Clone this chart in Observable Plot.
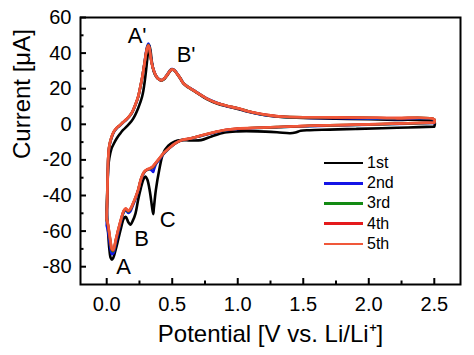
<!DOCTYPE html>
<html>
<head>
<meta charset="utf-8">
<script src="https://cdn.jsdelivr.net/npm/d3@7"></script>
<script src="https://cdn.jsdelivr.net/npm/@observablehq/plot@0.6"></script>
<style>
  html, body { margin: 0; padding: 0; background: #fff; }
  #wrap { position: relative; width: 474px; height: 355px; font-family: "Liberation Sans", Arial, sans-serif; }
  #legend { position: absolute; left: 324px; top: 153px; }
  .row { display: flex; align-items: center; height: 20.2px; }
  .sw { width: 39px; height: 2.5px; margin-right: 4px; }
  .lb { font-size: 16px; color: #000; line-height: 1; }
</style>
</head>
<body>
<div id="wrap"><div id="legend"></div></div>
<script>
// ---- data ----
const cycleNames = ["1st", "2nd", "3rd", "4th", "5th"];
const cycleColors = ["#000000", "#1414e6", "#138a13", "#e41a1c", "#f0583a"];

const xMajorTicks = [0, 0.5, 1.0, 1.5, 2.0, 2.5];
const xMinorTicks = [0.25, 0.75, 1.25, 1.75, 2.25];
const yMajorTicks = [-80, -60, -40, -20, 0, 20, 40, 60];
const yMinorTicks = [-70, -50, -30, -10, 10, 30, 50];

const xTitle = "Potential [V vs. Li/Li\u207A]";
const yTitle = "Current [\u03BCA]";

// potentials (V) of the cathodic (2.5 -> 0) and anodic (0 -> 2.5) sweeps
const cathodicV = [2.5, 2.3, 2.1, 1.9, 1.7, 1.55, 1.48, 1.44, 1.4, 1.3, 1.15, 1.0, 0.9, 0.8, 0.72, 0.64, 0.57, 0.52, 0.47, 0.43, 0.40, 0.375, 0.36, 0.355, 0.345, 0.33, 0.31, 0.295, 0.28, 0.26, 0.24, 0.22, 0.20, 0.18, 0.165, 0.145, 0.13, 0.11, 0.09, 0.07, 0.05, 0.04, 0.03, 0.02, 0.01, 0.0];
const anodicV = [0.0, 0.004, 0.008, 0.012, 0.02, 0.035, 0.055, 0.076, 0.1, 0.125, 0.153, 0.19, 0.216, 0.24, 0.255, 0.27, 0.28, 0.29, 0.30, 0.31, 0.318, 0.325, 0.335, 0.344, 0.36, 0.38, 0.40, 0.42, 0.44, 0.46, 0.48, 0.497, 0.515, 0.535, 0.56, 0.586, 0.62, 0.66, 0.71, 0.76, 0.84, 0.92, 1.0, 1.08, 1.15, 1.25, 1.33, 1.5, 1.75, 2.0, 2.2, 2.5];

// currents (µA)
const cath1 = [-1.3, -1.8, -2.2, -2.6, -3.0, -3.3, -3.6, -4.6, -5.0, -4.5, -4.0, -4.0, -4.6, -6.8, -8.9, -9.1, -8.9, -9.6, -12, -16.5, -26, -37, -47, -50.5, -46, -38, -31, -29.3, -31, -36, -42.4, -50, -54, -56.4, -55, -52, -53, -58, -64, -70, -75, -76, -75, -70, -60, -48];
const anod1 = [-48, -38, -30, -24, -19, -14, -10.8, -8, -5.5, -3.2, -1.2, 1.8, 5, 9, 12, 15.5, 19, 24, 30, 37, 42, 44.5, 41, 35.5, 29.5, 26.5, 25.2, 24.6, 25.5, 27.3, 29.5, 30.6, 30.3, 28.5, 25.8, 22.8, 20.8, 19, 16.6, 14.3, 11.7, 10, 8.6, 7, 5.9, 4.7, 4.1, 3.5, 3.2, 2.8, 2.5, 1.5];

const cath2 = [0.8, 0.4, 0.0, -0.4, -0.7, -1.0, -1.2, -1.3, -1.4, -1.7, -2.1, -2.6, -3.4, -5.0, -6.5, -8.0, -9.0, -10.9, -14, -17, -20, -22.5, -25.5, -26.8, -26, -25.2, -25.6, -26.3, -27.8, -31.5, -37.3, -41.8, -45.5, -49, -49.8, -48.3, -49.5, -54, -60, -66.5, -72.5, -73, -70, -65, -60, -57];
const anod2 = [-57, -43, -30, -19, -12.5, -8, -4.4, -2.3, -0.8, 1.0, 2.8, 6.1, 10.3, 15.3, 20.3, 25.8, 30.4, 35.3, 40.5, 44, 45.3, 44, 38.6, 34.5, 30.1, 26.8, 25.3, 24.9, 25.9, 27.8, 30, 31, 30.6, 28.8, 26.2, 23.2, 21.1, 19.3, 16.9, 14.7, 12.1, 10.2, 8.9, 7.2, 6.0, 4.8, 4.2, 3.7, 3.5, 3.2, 3.0, 2.4];

const cath3 = [0.9, 0.5, 0.1, -0.3, -0.6, -0.9, -1.1, -1.2, -1.3, -1.6, -2.0, -2.5, -3.3, -4.9, -6.4, -8.0, -9.0, -10.9, -13.9, -16.7, -19.6, -21.9, -23.5, -24.0, -24.5, -25.0, -25.5, -26.2, -27.5, -31.2, -37, -41.3, -44.9, -48, -49, -47.7, -49, -53.5, -59, -65.2, -71.2, -71, -67, -62, -57, -54];
const anod3 = [-54, -41, -28.5, -18.3, -12.2, -7.7, -4.1, -2.1, -0.6, 1.1, 2.9, 6.2, 10.4, 15.4, 20.4, 25.9, 30.4, 35.1, 40, 43.4, 44.6, 43.4, 38.2, 34.3, 30, 26.7, 25.2, 24.8, 25.8, 27.7, 29.9, 30.9, 30.5, 28.7, 26.1, 23.1, 21, 19.2, 16.8, 14.6, 12, 10.3, 9, 7.3, 6.1, 4.9, 4.3, 3.9, 3.8, 3.6, 3.4, 2.7];

const cath4 = [0.95, 0.55, 0.15, -0.25, -0.55, -0.85, -1.05, -1.15, -1.25, -1.55, -1.95, -2.45, -3.25, -4.85, -6.35, -7.95, -8.95, -10.85, -13.85, -16.6, -19.4, -21.7, -23.1, -23.6, -24.2, -24.8, -25.4, -26.1, -27.4, -31.1, -36.9, -41.1, -44.7, -47.7, -48.7, -47.4, -48.7, -53.2, -58.7, -64.8, -70.8, -70.5, -66.5, -61.5, -56.5, -53.5];
const anod4 = [-53.5, -40.5, -28.2, -18.1, -12.1, -7.6, -4, -2, -0.5, 1.2, 3.0, 6.3, 10.5, 15.5, 20.5, 26, 30.4, 35, 39.9, 43.2, 44.4, 43.2, 38.1, 34.2, 30, 26.7, 25.2, 24.8, 25.8, 27.6, 29.8, 30.8, 30.4, 28.6, 26, 23, 21, 19.2, 16.8, 14.6, 12, 10.3, 9, 7.3, 6.2, 5, 4.4, 4.0, 3.9, 3.7, 3.5, 2.8];

const cath5 = [1.0, 0.6, 0.2, -0.2, -0.5, -0.8, -1.0, -1.1, -1.2, -1.5, -1.9, -2.4, -3.2, -4.8, -6.3, -7.9, -8.9, -10.8, -13.8, -16.5, -19.3, -21.5, -22.8, -23.3, -24, -24.7, -25.3, -26, -27.3, -31, -36.8, -41, -44.5, -47.5, -48.5, -47.2, -48.5, -53, -58.5, -64.5, -70.4, -70, -66, -61, -56, -53];
const anod5 = [-53, -40, -28, -18, -12, -7.5, -4, -2, -0.5, 1.2, 3.0, 6.3, 10.5, 15.5, 20.5, 26, 30.4, 35, 39.8, 43, 44.2, 43, 38, 34.2, 30, 26.7, 25.2, 24.8, 25.8, 27.6, 29.8, 30.8, 30.4, 28.6, 26, 23, 21, 19.2, 16.8, 14.6, 12, 10.3, 9, 7.3, 6.2, 5, 4.4, 4.0, 3.9, 3.7, 3.5, 2.8];

// peak labels (anchored in data coordinates)
const peakLabels = [
  {label: "A'", x: 0.232, y: 49.5},
  {label: "B'", x: 0.606, y: 39.1},
  {label: "A", x: 0.128, y: -80.2},
  {label: "B", x: 0.266, y: -64.5},
  {label: "C", x: 0.465, y: -53.6}
];

// ---- build table ----
const cathodic = [cath1, cath2, cath3, cath4, cath5];
const anodic = [anod1, anod2, anod3, anod4, anod5];
const rows = [];
cycleNames.forEach((name, k) => {
  cathodicV.forEach((v, j) => rows.push({cycle: name, v, i: cathodic[k][j]}));
  anodicV.forEach((v, j) => rows.push({cycle: name, v, i: anodic[k][j]}));
  rows.push({cycle: name, v: cathodicV[0], i: cathodic[k][0]}); // close the loop
});

const W = 474, H = 355, mL = 80, mR = 14, mT = 17, mB = 71;
const fw = W - mL - mR, fh = H - mT - mB;

const chart = Plot.plot({
  width: W, height: H,
  marginLeft: mL, marginRight: mR, marginTop: mT, marginBottom: mB,
  style: {fontFamily: "'Liberation Sans', Arial, sans-serif", background: "white", color: "black", overflow: "visible"},
  x: {domain: [-0.2, 2.7]},
  y: {domain: [-90, 60]},
  color: {domain: cycleNames, range: cycleColors},
  marks: [
    Plot.line(rows, {x: "v", y: "i", z: "cycle", stroke: "cycle", strokeWidth: 2.6, curve: "catmull-rom"}),
    Plot.frame({stroke: "black", strokeWidth: 2}),
    Plot.tickX(xMajorTicks, {x: d => d, insetTop: fh - 6, stroke: "black", strokeWidth: 2}),
    Plot.tickX(xMinorTicks, {x: d => d, insetTop: fh - 3.5, stroke: "black", strokeWidth: 2}),
    Plot.tickY(yMajorTicks, {y: d => d, insetRight: fw - 6, stroke: "black", strokeWidth: 2}),
    Plot.tickY(yMinorTicks, {y: d => d, insetRight: fw - 3.5, stroke: "black", strokeWidth: 2}),
    Plot.axisX({ticks: xMajorTicks, tickSize: 0, tickPadding: 12, tickFormat: d3.format(".1f"), fontSize: 20, label: null}),
    Plot.axisY({ticks: yMajorTicks, tickSize: 0, tickPadding: 9, tickFormat: d => String(d), fontSize: 20, label: null}),
    Plot.text(peakLabels, {x: "x", y: "y", text: "label", fontSize: 22, fill: "black"}),
    Plot.text([xTitle], {text: d => d, frameAnchor: "bottom", dy: 57, fontSize: 24, fill: "black"}),
    Plot.text([yTitle], {text: d => d, frameAnchor: "left", dx: -58, dy: 8, rotate: -90, fontSize: 24, fill: "black"})
  ]
});
document.getElementById("wrap").prepend(chart);

const legend = document.getElementById("legend");
cycleNames.forEach((name, k) => {
  const row = document.createElement("div");
  row.className = "row";
  row.innerHTML = `<div class="sw" style="background:${cycleColors[k]}"></div><span class="lb">${name}</span>`;
  legend.appendChild(row);
});
</script>
</body>
</html>
